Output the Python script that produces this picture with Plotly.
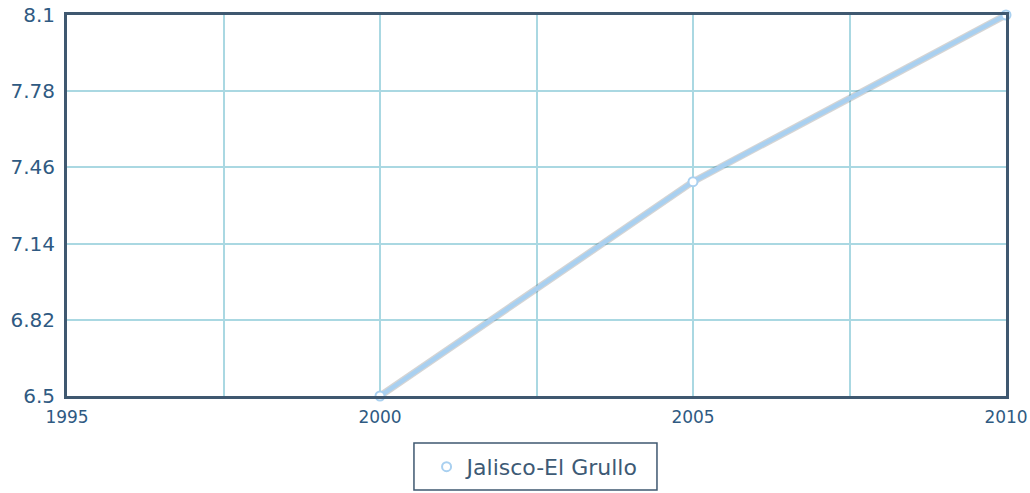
import plotly.graph_objects as go

years = [2000, 2005, 2010]
values = [6.5, 7.4, 8.1]
series_name = "Jalisco-El Grullo"
x_ticks = [1995, 2000, 2005, 2010]
y_ticks = [6.5, 6.82, 7.14, 7.46, 7.78, 8.1]

GRID = "#aad8e2"
FRAME = "#3f5870"
LINE = "#a9d0f0"
TEXT = "#2f5a82"

fig = go.Figure()
# soft shadow under the line
fig.add_trace(go.Scatter(
    x=years, y=values, mode="lines",
    line=dict(color="rgba(60,60,60,0.22)", width=7),
    hoverinfo="skip", showlegend=False,
))
# the line itself
fig.add_trace(go.Scatter(
    x=years, y=values, mode="lines",
    line=dict(color=LINE, width=4.5),
    hoverinfo="skip", showlegend=False, cliponaxis=False,
))
# markers (legend entry shows only the open circle)
fig.add_trace(go.Scatter(
    x=years, y=values, mode="markers", name=series_name,
    marker=dict(symbol="circle", size=9, color="white",
                line=dict(color=LINE, width=2)),
    cliponaxis=False,
))

# legend frame (plot area: 939 x 381 px)
fig.add_shape(type="rect", xref="paper", yref="paper",
              x0=0.3695, x1=0.6283, y0=-0.2467, y1=-0.1234,
              line=dict(color=FRAME, width=1.5), fillcolor="white", layer="below")

fig.update_layout(
    width=1030, height=493,
    margin=dict(l=67, r=24, t=15, b=97, autoexpand=False),
    paper_bgcolor="white", plot_bgcolor="white",
    font=dict(family="DejaVu Sans, Verdana, sans-serif", color=TEXT),
    showlegend=True,
    legend=dict(
        orientation="h", x=0.499, xanchor="center", y=-0.186, yanchor="middle",
        bgcolor="rgba(0,0,0,0)", borderwidth=0,
        font=dict(size=22, color="#3d5a75"),
    ),
    xaxis=dict(
        range=[1995, 2010], tickvals=x_ticks, ticktext=[str(v) for v in x_ticks],
        showgrid=True, gridcolor=GRID, gridwidth=1.5,
        minor=dict(dtick=2.5, tick0=1995, showgrid=True, gridcolor=GRID, gridwidth=1.5),
        showline=True, mirror=True, linecolor=FRAME, linewidth=3,
        ticks="", tickfont=dict(size=17, color=TEXT), zeroline=False,
        automargin=False, ticklabeloverflow="allow", ticklabelstandoff=4,
    ),
    yaxis=dict(
        range=[6.5, 8.1], tickvals=y_ticks, ticktext=[f"{v:g}" for v in y_ticks],
        showgrid=True, gridcolor=GRID, gridwidth=1.5,
        showline=True, mirror=True, linecolor=FRAME, linewidth=3,
        ticks="", tickfont=dict(size=20, color=TEXT), zeroline=False,
        automargin=False, ticklabeloverflow="allow", ticklabelstandoff=5,
    ),
)

fig.write_html(
    "out.html",
    config={"displayModeBar": False},
    post_script="document.body.style.margin='0';document.body.style.overflow='hidden';",
)
